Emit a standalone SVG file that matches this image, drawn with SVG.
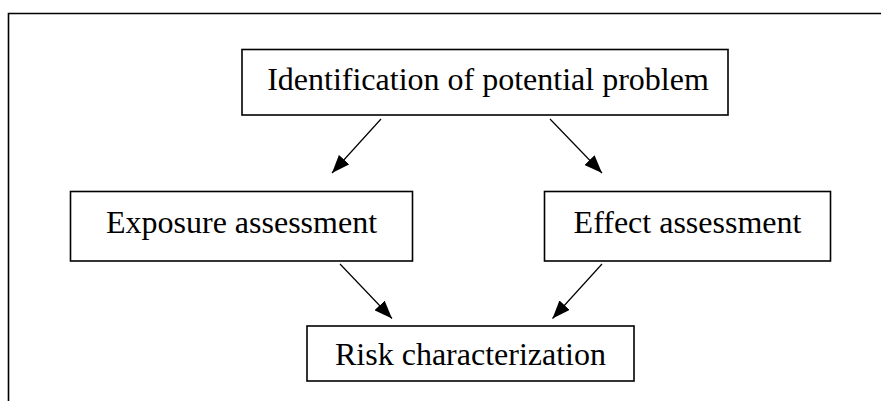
<svg xmlns="http://www.w3.org/2000/svg" width="881" height="401" viewBox="0 0 881 401">
<style>
.box{fill:#fff;stroke:#000;stroke-width:1.6}
.lbl{font-family:"Liberation Serif","Times New Roman",serif;font-size:32px;fill:#000;text-anchor:middle}
.conn{stroke:#000;stroke-width:1.2;fill:none;marker-end:url(#ah)}
</style>
<defs>
<marker id="ah" markerUnits="userSpaceOnUse" viewBox="0 0 18 14" refX="18" refY="7" markerWidth="18" markerHeight="14" orient="auto">
<path d="M0,0 L18,7 L0,14 Z" fill="#000"/>
</marker>
</defs>
<rect width="881" height="401" fill="#fff"/>
<path d="M8.5,401 L8.5,13.5 L881,13.5" fill="none" stroke="#000" stroke-width="1.6"/>
<g id="identification">
<rect class="box" x="242" y="49.5" width="486" height="65.5"/>
<text class="lbl" x="488" y="90">Identification of potential problem</text>
</g>
<g id="exposure">
<rect class="box" x="70.5" y="191.5" width="342" height="69.5"/>
<text class="lbl" x="241.5" y="233">Exposure assessment</text>
</g>
<g id="effect">
<rect class="box" x="544.5" y="191.5" width="286" height="69.5"/>
<text class="lbl" x="687.5" y="233">Effect assessment</text>
</g>
<g id="risk">
<rect class="box" x="307" y="326" width="327" height="55"/>
<text class="lbl" x="470.5" y="365">Risk characterization</text>
</g>
<g id="connectors">
<line class="conn" x1="381" y1="119" x2="332" y2="173"/>
<line class="conn" x1="550" y1="119" x2="602" y2="173"/>
<line class="conn" x1="340" y1="264" x2="392" y2="318.5"/>
<line class="conn" x1="602" y1="264" x2="552.5" y2="318.5"/>
</g>
</svg>
